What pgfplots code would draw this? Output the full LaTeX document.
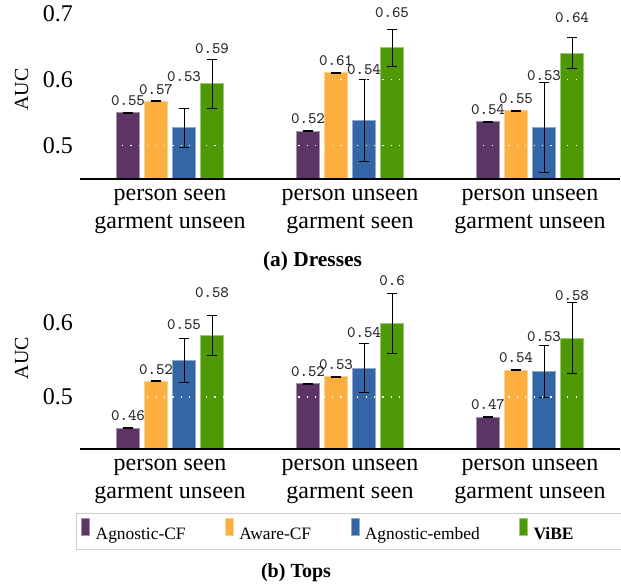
\documentclass[border=0pt]{standalone}
\usepackage{fontspec}
\setmainfont{Liberation Serif}
\usepackage{pgfplots}
\pgfplotsset{compat=1.18}
\definecolor{cpur}{HTML}{5C3566}
\definecolor{corg}{HTML}{FCAF3E}
\definecolor{cblu}{HTML}{3465A4}
\definecolor{cgrn}{HTML}{4E9A06}
\pgfplotsset{
  vibe/.style={
    scale only axis, width=270pt,
    ybar=2.5pt, bar width=11.5pt,
    xmin=-0.5, xmax=2.5,
    xtick={0,1,2},
    xticklabels={{person seen\\garment unseen},{person unseen\\garment seen},{person unseen\\garment unseen}},
    xticklabel style={align=center, font=\fontsize{12}{14}\selectfont, yshift=2.8pt},
    yticklabel style={font=\fontsize{12}{14}\selectfont},
    /pgf/number format/assume math mode=true,
    axis lines*=left,
    y axis line style={draw=none},
    x axis line style={line width=0.6pt,-},
    major tick style={draw=none},
    ymajorgrids, grid style={white, line width=0.6pt, dash pattern=on 0.6pt off 3.6pt},
    axis on top,
    ylabel={AUC},
    ylabel style={font=\fontsize{10}{12}\selectfont, at={(axis description cs:-0.1083,0.5)}, anchor=center},
    nodes near coords,
    point meta=y,
    nodes near coords style={font=\ttfamily\fontsize{8}{9}\selectfont, /pgf/number format/fixed, /pgf/number format/precision=2, text=black!85},
    error bars/y dir=both, error bars/y explicit,
    error bars/error bar style={black, line width=0.5pt},
    error bars/error mark options={black, line width=0.5pt, mark size=2.6pt, rotate=90},
  },
  pur/.style={fill=cpur, draw=cpur!55!white, line width=0.5pt},
  org/.style={fill=corg, draw=corg!55!white, line width=0.5pt},
  blu/.style={fill=cblu, draw=cblu!55!white, line width=0.5pt},
  grn/.style={fill=cgrn, draw=cgrn!55!white, line width=0.5pt},
}
\begin{document}
\begin{tikzpicture}
\path[use as bounding box] (0,0) rectangle (310.5pt,293pt);
% (a) Dresses
\begin{axis}[vibe, height=89.5pt, at={(40pt,203.5pt)}, anchor=south west,
  ymin=0.45, ymax=0.72, ytick={0.5,0.6,0.7}]
\addplot[pur] coordinates {(0,0.550) +- (0,0.0007) (1,0.522) +- (0,0.0007) (2,0.536) +- (0,0.0007)};
\addplot[org] coordinates {(0,0.567) +- (0,0.0007) (1,0.610) +- (0,0.0007) (2,0.553) +- (0,0.0007)};
\addplot[blu, every node near coord/.append style={yshift=19.5pt}] coordinates {(0,0.527) +- (0,0.030) (1,0.538) +- (0,0.062) (2,0.528) +- (0,0.068)};
\addplot[grn, every node near coord/.append style={yshift=11.5pt}] coordinates {(0,0.594) +- (0,0.037) (1,0.648) +- (0,0.028) (2,0.640) +- (0,0.023)};
\end{axis}
\node[font=\bfseries\fontsize{10.7}{12}\selectfont] at (156.25pt,162.3pt) {(a) Dresses};
% (b) Tops
\begin{axis}[vibe, height=91pt, at={(40pt,68.5pt)}, anchor=south west,
  ymin=0.43, ymax=0.675, ytick={0.5,0.6},
  every axis plot post/.append style={legend image code/.code={\draw[##1] (0pt,0pt) rectangle (4pt,8.3pt);}},
  legend style={at={(axis description cs:-0.0074,-0.3516)}, anchor=north west,
    draw=black!20, line width=0.5pt, legend columns=4,
    font=\fontsize{8.7}{10.5}\selectfont, inner xsep=2.45pt, inner ysep=2.2pt,
    nodes={inner sep=1.2pt},
    /tikz/every odd column/.append style={column sep=1.45pt},
    /tikz/every even column/.append style={column sep=18.5pt}},
  legend cell align=left]
\addplot[pur] coordinates {(0,0.458) +- (0,0.0007) (1,0.518) +- (0,0.0007) (2,0.473) +- (0,0.0007)};
\addplot[org] coordinates {(0,0.521) +- (0,0.0007) (1,0.527) +- (0,0.0007) (2,0.536) +- (0,0.0007)};
\addplot[blu, every node near coord/.append style={yshift=11.7pt}] coordinates {(0,0.549) +- (0,0.030) (1,0.539) +- (0,0.033) (2,0.534) +- (0,0.035)};
\addplot[grn, every node near coord/.append style={yshift=15.25pt}] coordinates {(0,0.583) +- (0,0.027) (1,0.599) +- (0,0.040) (2,0.579) +- (0,0.048)};
\legend{Agnostic-CF, Aware-CF, Agnostic-embed, \textbf{ViBE}\hspace*{40pt}}
\end{axis}
\node[font=\bfseries\fontsize{10}{12}\selectfont] at (148pt,6.5pt) {(b) Tops};
\end{tikzpicture}
\end{document}
